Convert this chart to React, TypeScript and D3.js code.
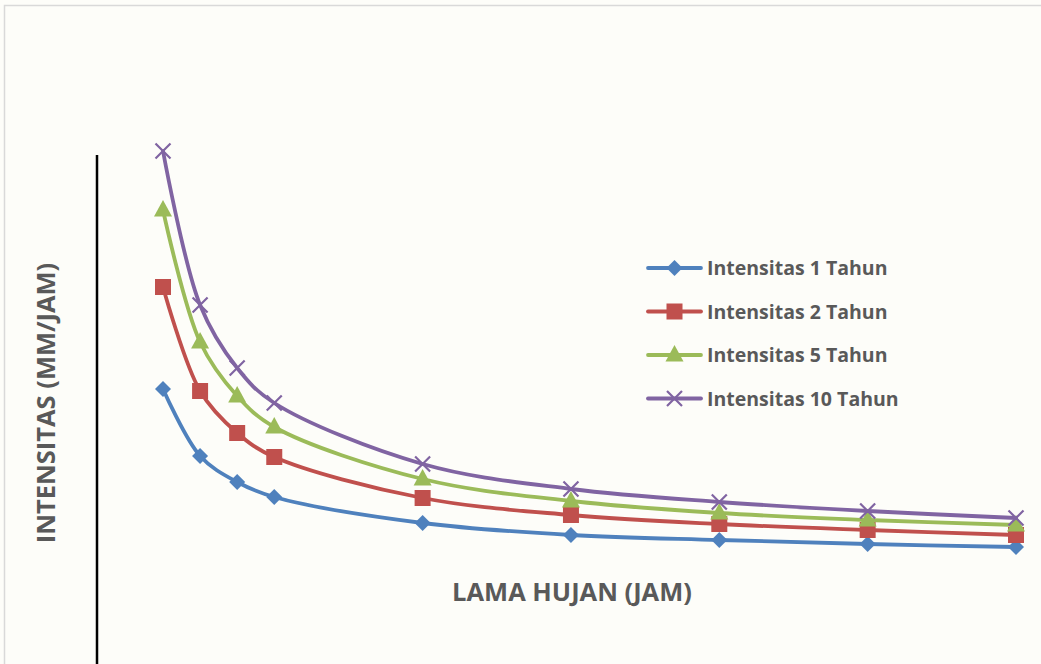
import React, { useEffect, useRef } from "react";
import * as d3 from "d3";

// durasi hujan (jam)
const durations = [1, 2, 3, 4, 8, 12, 16, 20, 24];

const seriesNames = [
  "Intensitas 1 Tahun",
  "Intensitas 2 Tahun",
  "Intensitas 5 Tahun",
  "Intensitas 10 Tahun",
];

const int1 = [90, 56.5, 43.5, 36, 23, 17, 14.5, 12.5, 11];
const int2 = [141, 89, 68, 56, 35.5, 27, 22.5, 19.5, 17];
const int5 = [179.5, 113.5, 86.5, 71, 45, 34, 28, 24.5, 22];
const int10 = [209, 132, 100.5, 83, 52.5, 40, 33.5, 29, 25.5];

const colors = ["#4f81bd", "#c0504d", "#9bbb59", "#8064a2"];
const markers = ["diamond", "square", "triangle", "cross"];

const W = 1041;
const H = 664;

function drawMarker(g: any, kind: string, x: number, y: number, color: string) {
  if (kind === "diamond") {
    g.append("path")
      .attr("d", `M${x},${y - 8}L${x + 8},${y}L${x},${y + 8}L${x - 8},${y}Z`)
      .attr("fill", color);
  } else if (kind === "square") {
    g.append("rect")
      .attr("x", x - 8)
      .attr("y", y - 8)
      .attr("width", 16)
      .attr("height", 16)
      .attr("fill", color);
  } else if (kind === "triangle") {
    g.append("path")
      .attr("d", `M${x},${y - 10}L${x + 9},${y + 6.5}L${x - 9},${y + 6.5}Z`)
      .attr("fill", color);
  } else {
    g.append("path")
      .attr("d", `M${x - 7.5},${y - 7.5}L${x + 7.5},${y + 7.5}M${x - 7.5},${y + 7.5}L${x + 7.5},${y - 7.5}`)
      .attr("stroke", color)
      .attr("stroke-width", 2.2);
  }
}

const App: React.FC = () => {
  const svgRef = useRef<SVGSVGElement | null>(null);

  useEffect(() => {
    const svg = d3.select(svgRef.current);
    svg.selectAll("*").remove();

    const data = [int1, int2, int5, int10];

    const x = d3.scaleLinear().domain([1, 24]).range([163, 1016]);
    const y = d3.scaleLinear().domain([0, 100]).range([569, 369]);

    svg.append("rect").attr("width", W).attr("height", H).attr("fill", "#fdfdf9");
    svg
      .append("rect")
      .attr("x", 4.5)
      .attr("y", 5.5)
      .attr("width", 1100)
      .attr("height", 700)
      .attr("fill", "none")
      .attr("stroke", "#d9d9d9")
      .attr("stroke-width", 1.5);

    // sumbu Y
    svg
      .append("line")
      .attr("x1", 97)
      .attr("x2", 97)
      .attr("y1", 155)
      .attr("y2", H + 5)
      .attr("stroke", "#000")
      .attr("stroke-width", 2.5);

    const line = d3
      .line<number>()
      .x((_, i) => x(durations[i]))
      .y((d) => y(d))
      .curve(d3.curveCatmullRom.alpha(0.5));

    data.forEach((vals, si) => {
      const g = svg.append("g");
      g.append("path")
        .attr("d", line(vals))
        .attr("fill", "none")
        .attr("stroke", colors[si])
        .attr("stroke-width", 3.8)
        .attr("stroke-linecap", "round");
      vals.forEach((v, i) => drawMarker(g, markers[si], x(durations[i]), y(v), colors[si]));
    });

    // legenda
    const leg = svg.append("g");
    seriesNames.forEach((name, i) => {
      const ly = 268 + i * 43.5;
      leg
        .append("line")
        .attr("x1", 648)
        .attr("x2", 701)
        .attr("y1", ly)
        .attr("y2", ly)
        .attr("stroke", colors[i])
        .attr("stroke-width", 3.8)
        .attr("stroke-linecap", "round");
      drawMarker(leg, markers[i], 674.5, ly, colors[i]);
      leg
        .append("text")
        .attr("x", 707)
        .attr("y", ly)
        .attr("dy", "0.36em")
        .attr("fill", "#595959")
        .style("font-family", "'Open Sans', sans-serif")
        .style("font-weight", "bold")
        .style("font-size", "19.5px")
        .text(name);
    });

    svg
      .append("text")
      .attr("x", 572)
      .attr("y", 592)
      .attr("dy", "0.36em")
      .attr("text-anchor", "middle")
      .attr("fill", "#595959")
      .style("font-family", "'Open Sans', sans-serif")
      .style("font-weight", "bold")
      .style("font-size", "25.5px")
      .text("LAMA HUJAN (JAM)");

    svg
      .append("text")
      .attr("transform", "translate(46,403) rotate(-90)")
      .attr("dy", "0.36em")
      .attr("text-anchor", "middle")
      .attr("fill", "#595959")
      .style("font-family", "'Open Sans', sans-serif")
      .style("font-weight", "bold")
      .style("font-size", "25.5px")
      .text("INTENSITAS (MM/JAM)");
  }, []);

  return (
    <div style={{ position: "absolute", left: 0, top: 0 }}>
      <svg ref={svgRef} width={W} height={H} style={{ display: "block" }} />
    </div>
  );
};

export default App;
